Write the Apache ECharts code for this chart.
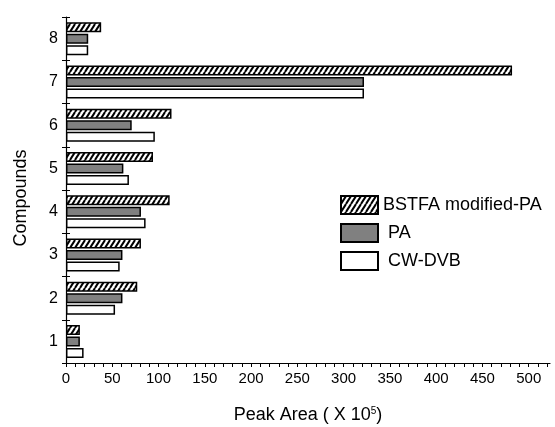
<!DOCTYPE html>
<html><head><meta charset="utf-8">
<script src="https://cdn.jsdelivr.net/npm/echarts@6/dist/echarts.min.js"></script>
<style>html,body{margin:0;padding:0;background:#fff}#c{width:555px;height:427px}</style>
</head><body><div id="c"></div>
<script>
const categories = ['1','2','3','4','5','6','7','8'];
const bstfa = [15, 77, 81, 112, 94, 114, 482, 38];
const pa = [15, 61, 61, 81, 62, 71, 322, 24];
const cwdvb = [19, 53, 58, 86, 68, 96, 322, 24];
const seriesNames = ['BSTFA modified-PA', 'PA', 'CW-DVB'];

function hatch() {
  const w = 5, h = 8;
  const c = document.createElement('canvas');
  c.width = w; c.height = h;
  const ctx = c.getContext('2d');
  ctx.fillStyle = '#fff'; ctx.fillRect(0, 0, w, h);
  ctx.strokeStyle = '#000'; ctx.lineWidth = 2;
  for (const o of [-w, 0, w]) {
    ctx.beginPath(); ctx.moveTo(o, h); ctx.lineTo(o + w, 0); ctx.stroke();
  }
  return c;
}
const font = 'Liberation Sans, Arial, sans-serif';
const chart = echarts.init(document.getElementById('c'), null, {renderer: 'canvas'});
const border = {borderColor: '#000', borderWidth: 1.5};
chart.setOption({
  animation: false,
  backgroundColor: '#fff',
  grid: {left: 66, right: 5, top: 17, bottom: 64, outerBoundsMode: 'none', containLabel: false},
  legend: {
    orient: 'vertical', left: 340, top: 195, padding: 0, itemWidth: 37, itemHeight: 18, itemGap: 8,
    icon: 'rect', data: seriesNames,
    formatter: n => n === seriesNames[0] ? n : ' ' + n,
    textStyle: {fontFamily: font, fontSize: 18, color: '#000'}
  },
  xAxis: {
    type: 'value', min: 0, max: 523, interval: 10,
    name: '{a|Peak Area ( X 10}{s|5}{a|)}', nameLocation: 'middle', nameGap: 43,
    nameTextStyle: {rich: {a: {fontFamily: font, fontSize: 18, color: '#000'}, s: {fontFamily: font, fontSize: 10, color: '#000', verticalAlign: 'top', padding: [0,0,8,0]}}},
    axisLine: {show: true, lineStyle: {color: '#000', width: 1.2}},
    axisTick: {show: true, length: 4, lineStyle: {color: '#000'}},
    axisLabel: {formatter: v => (v % 50 === 0 ? String(v) : ''), fontFamily: font, fontSize: 15, color: '#000', margin: 8, showMaxLabel: false},
    splitLine: {show: false}
  },
  yAxis: [{
    type: 'category', data: categories,
    name: 'Compounds', nameLocation: 'middle', nameGap: 36,
    nameTextStyle: {fontFamily: font, fontSize: 18, color: '#000', padding: [0, 16, 0, 0]},
    axisLine: {show: true, lineStyle: {color: '#000', width: 1.2}},
    axisTick: {show: true, length: 4, lineStyle: {color: '#000'}},
    axisLabel: {fontFamily: font, fontSize: 16, color: '#000', margin: 8}
  }, {
    type: 'category', data: categories, position: 'left',
    axisLine: {show: false}, axisLabel: {show: false},
    axisTick: {show: true, inside: true, length: 4, lineStyle: {color: '#000'}}
  }],
  series: [
    {name: seriesNames[0], type: 'bar', data: bstfa, barWidth: 10, barGap: '15%', itemStyle: Object.assign({color: {image: hatch(), repeat: 'repeat'}}, border)},
    {name: seriesNames[1], type: 'bar', data: pa, barWidth: 10, barGap: '15%', itemStyle: Object.assign({color: '#808080'}, border)},
    {name: seriesNames[2], type: 'bar', data: cwdvb, barWidth: 10, barGap: '15%', itemStyle: Object.assign({color: '#fff'}, border)}
  ]
});
</script></body></html>
